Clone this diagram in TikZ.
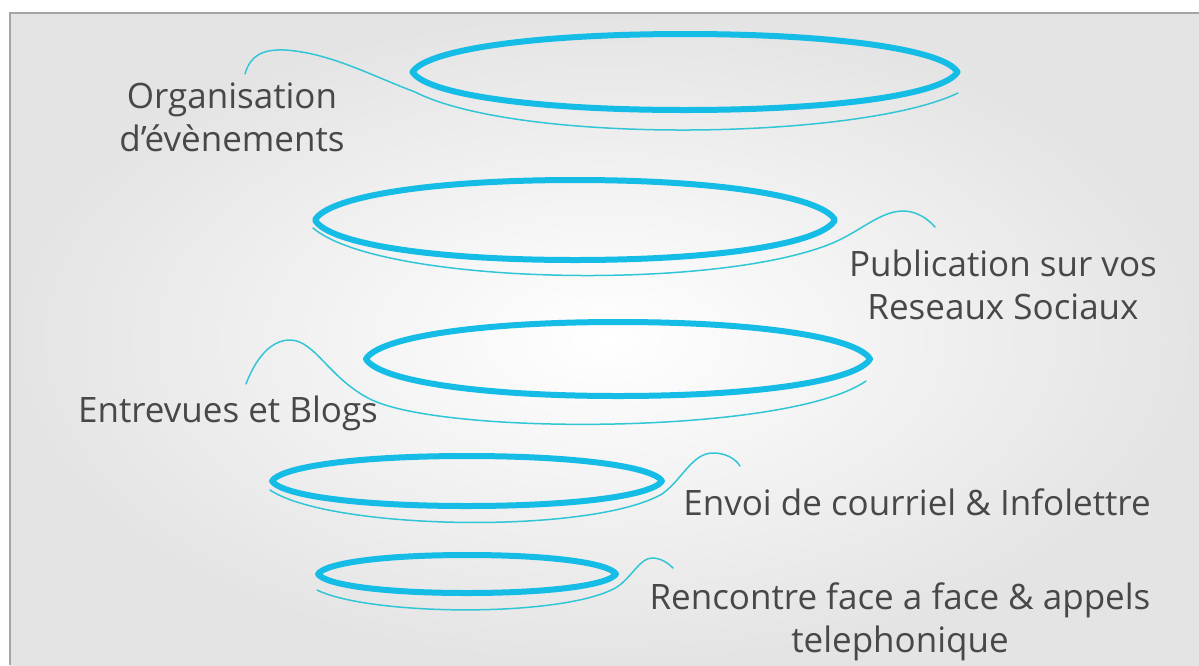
\documentclass[tikz,border=0pt]{standalone}
\usepackage{fontspec}
\setmainfont{Open Sans}
\usetikzlibrary{shapes.geometric}
\definecolor{ringblue}{RGB}{20,188,230}
\definecolor{swoosh}{RGB}{48,198,214}
\definecolor{txtgray}{RGB}{72,72,72}
\definecolor{bgedge}{RGB}{228,228,228}
\definecolor{framegray}{RGB}{165,165,165}
\newcommand\lensring[3]{%
  \pgfmathsetmacro\lnA{0.05*#2}\pgfmathsetmacro\lnB{0.58*#3}\pgfmathsetmacro\lnC{0.56*#2}%
  \draw[ringline] (#1.west) .. controls +(\lnA,-\lnB) and +(-\lnC,0) .. (#1.north)
    .. controls +(\lnC,0) and +(-\lnA,-\lnB) .. (#1.east)
    .. controls +(-\lnA,\lnB) and +(\lnC,0) .. (#1.south)
    .. controls +(-\lnC,0) and +(\lnA,\lnB) .. (#1.west) -- cycle;}
\begin{document}
\begin{tikzpicture}[x=1pt,y=-1pt,
  ring/.style={draw=none, ellipse, inner sep=0pt, outer sep=0pt},
  ringline/.style={draw=ringblue, line width=6pt, line join=round},
  swline/.style={draw=swoosh, line width=1.5pt, line cap=round},
  label/.style={text=txtgray, align=center, inner sep=0pt, font=\fontsize{35}{43}\selectfont}]
\useasboundingbox (0,0) rectangle (1199,665);
\fill[white] (0,0) rectangle (1199,665);
\shade[inner color=white, middle color=white!60!bgedge, outer color=bgedge] (10,13) rectangle (1199,665);
\draw[framegray, line width=2pt] (10,665) -- (10,13) -- (1199,13);

% rings
\node[ring, minimum width=545pt, minimum height=76pt] (e1) at (685,72) {};
\node[ring, minimum width=520pt, minimum height=80pt] (e2) at (575,220) {};
\node[ring, minimum width=504pt, minimum height=74pt] (e3) at (618,359) {};
\node[ring, minimum width=390pt, minimum height=50pt] (e4) at (467,481) {};
\node[ring, minimum width=298pt, minimum height=38pt] (e5) at (467,574) {};
\lensring{e1}{272}{38}
\lensring{e2}{260}{40}
\lensring{e3}{252}{37}
\lensring{e4}{195}{25}
\lensring{e5}{149}{19}

% swoosh lines
\draw[swline] (245,74) .. controls (250,56) and (262,49) .. (285,50)
  .. controls (330,53) and (370,75) .. (415,92)
  .. controls (520,145) and (860,140) .. (958,93);
\draw[swline] (313,228) .. controls (380,285) and (720,292) .. (835,242)
  .. controls (862,230) and (882,210) .. (905,211)
  .. controls (918,212) and (928,219) .. (935,227);
\draw[swline] (246,384) .. controls (255,360) and (270,340) .. (290,340)
  .. controls (315,340) and (330,380) .. (372,400)
  .. controls (450,436) and (790,434) .. (866,381);
\draw[swline] (270,490) .. controls (330,530) and (590,535) .. (662,494)
  .. controls (682,480) and (692,453) .. (713,453)
  .. controls (725,453) and (735,458) .. (740,466);
\draw[swline] (317,590) .. controls (370,616) and (565,618) .. (617,587)
  .. controls (632,577) and (640,558) .. (652,558)
  .. controls (661,558) and (668,563) .. (673,568);

% labels
\node[label] (t1) at (232,117) {Organisation\\d’évènements};
\node[label] (t2) at (1003,285) {Publication sur vos\\Reseaux Sociaux};
\node[label] (t3) at (228,413) {Entrevues et Blogs};
\node[label] (t4) at (917,502) {Envoi de courriel \& Infolettre};
\node[label] (t5) at (900,622) {Rencontre face a face \& appels\\telephonique};
\end{tikzpicture}
\end{document}
